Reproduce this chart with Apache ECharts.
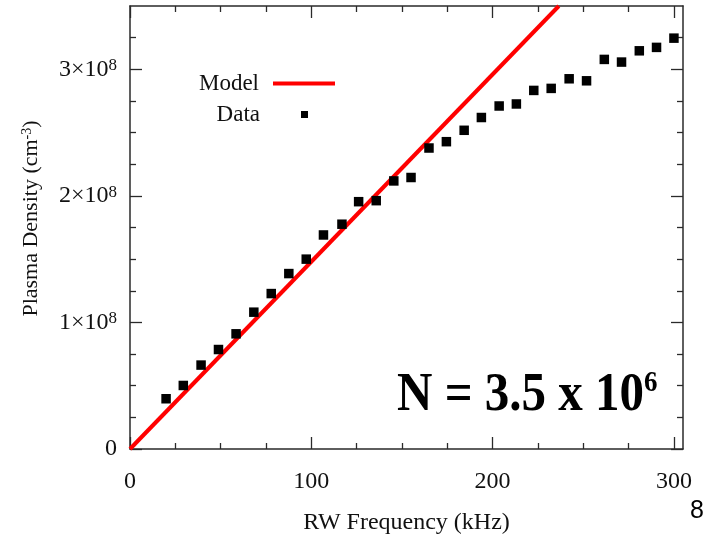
<!DOCTYPE html>
<html>
<head>
<meta charset="utf-8">
<script src="https://cdn.jsdelivr.net/npm/echarts@6/dist/echarts.min.js"></script>
<style>
html,body{margin:0;padding:0;background:#fff;}
#chart{width:706px;height:536px;}
</style>
</head>
<body>
<div id="chart"></div>
<script>
// ---- data ----
var freqKHz = [19.9, 29.4, 39.2, 48.8, 58.5, 68.3, 77.9, 87.6, 97.2, 106.7, 116.9, 126.1, 135.8, 145.5, 155.0, 164.9, 174.5, 184.3, 193.8, 203.6, 213.1, 222.7, 232.3, 242.2, 251.8, 261.6, 271.1, 280.9, 290.4, 300.0];
var densityE8 = [0.397, 0.502, 0.663, 0.786, 0.910, 1.081, 1.228, 1.386, 1.500, 1.691, 1.776, 1.954, 1.962, 2.118, 2.145, 2.378, 2.428, 2.518, 2.619, 2.710, 2.726, 2.833, 2.849, 2.925, 2.909, 3.078, 3.057, 3.146, 3.173, 3.246];
var modelFreq = [0, 236.5];
var modelDensityE8 = [0, 3.5];
var xMajor = [0, 100, 200, 300];
var xMinor = [25, 50, 75, 125, 150, 175, 225, 250, 275];
var yMajor = [0, 1, 2, 3];
var yMinor = [0.25, 0.5, 0.75, 1.25, 1.5, 1.75, 2.25, 2.5, 2.75, 3.25];

var serif = '"Liberation Serif", "Times New Roman", serif';
var frame = '#2a2a2a';

var dataPts = freqKHz.map(function (f, i) { return [f, densityE8[i]]; });
var modelPts = modelFreq.map(function (f, i) { return [f, modelDensityE8[i]]; });

function xAx(pos, ticks, len, showLine, label) {
  return {
    type: 'value', position: pos, min: 0, max: 305,
    axisLine: { show: showLine, onZero: false, lineStyle: { color: frame, width: 1.5 } },
    axisTick: { show: true, inside: true, length: len, customValues: ticks, lineStyle: { color: frame, width: 1.3 } },
    axisLabel: label ? {
      show: true, customValues: ticks, margin: 21,
      fontFamily: serif, fontSize: 24, color: '#111'
    } : { show: false },
    splitLine: { show: false }
  };
}
function yAx(pos, ticks, len, showLine, label) {
  return {
    type: 'value', position: pos, min: 0, max: 3.5,
    axisLine: { show: showLine, onZero: false, lineStyle: { color: frame, width: 1.5 } },
    axisTick: { show: true, inside: true, length: len, customValues: ticks, lineStyle: { color: frame, width: 1.3 } },
    axisLabel: label ? {
      show: true, customValues: ticks, margin: 13,
      fontFamily: serif, fontSize: 24, color: '#111',
      formatter: function (v) { return v === 0 ? '0' : v + '×10{sup|8}'; },
      rich: { sup: { fontFamily: serif, fontSize: 17, color: '#111', verticalAlign: 'top' } }
    } : { show: false },
    splitLine: { show: false }
  };
}

var xAxes = [xAx('bottom', xMajor, 12, true, true), xAx('bottom', xMinor, 6, false, false),
             xAx('top', xMajor, 12, true, false), xAx('top', xMinor, 6, false, false)];
xAxes[0].name = 'RW Frequency (kHz)';
xAxes[0].nameLocation = 'middle';
xAxes[0].nameGap = 62;
xAxes[0].nameTextStyle = { fontFamily: serif, fontSize: 24, color: '#111' };

var yAxes = [yAx('left', yMajor, 12, true, true), yAx('left', yMinor, 6, false, false),
             yAx('right', yMajor, 12, true, false), yAx('right', yMinor, 6, false, false)];
yAxes[0].name = 'Plasma Density (cm{sup|-3})';
yAxes[0].nameLocation = 'middle';
yAxes[0].nameGap = 88;
yAxes[0].nameTextStyle = {
  fontFamily: serif, fontSize: 22, color: '#111', padding: [0, 0, 0, 18],
  rich: { sup: { fontFamily: serif, fontSize: 14, color: '#111', verticalAlign: 'top' } }
};

var chart = echarts.init(document.getElementById('chart'), null, { renderer: 'canvas' });
chart.setOption({
  animation: false,
  backgroundColor: '#fff',
  grid: { left: 130, right: 23, top: 6, bottom: 87, containLabel: false, outerBoundsMode: 'none' },
  xAxis: xAxes,
  yAxis: yAxes,
  legend: [
    {
      data: [{ name: 'Model', icon: 'rect' }], right: 371, top: 72, padding: 0,
      itemWidth: 62, itemHeight: 4,
      textStyle: { fontFamily: serif, fontSize: 23, color: '#111', padding: [0, 9, 0, 0] },
      align: 'right', selectedMode: false
    },
    {
      data: [{ name: 'Data', icon: 'rect' }], right: 398, top: 103, padding: 0,
      itemWidth: 7, itemHeight: 7,
      textStyle: { fontFamily: serif, fontSize: 23, color: '#111', padding: [0, 36, 0, 0] },
      align: 'right', selectedMode: false
    }
  ],
  series: [
    {
      name: 'Model', type: 'line', data: modelPts, symbol: 'none', showSymbol: false,
      lineStyle: { color: '#ff0000', width: 4 }, itemStyle: { color: '#ff0000' },
      xAxisIndex: 0, yAxisIndex: 0, z: 3
    },
    {
      name: 'Data', type: 'scatter', data: dataPts, symbol: 'rect', symbolSize: 9.5,
      itemStyle: { color: '#000', opacity: 1 }, xAxisIndex: 0, yAxisIndex: 0, z: 4
    }
  ],
  graphic: [
    {
      type: 'text', x: 397, y: 396, scaleY: 1.12,
      style: {
        text: 'N = 3.5 x 10{sup|6}',
        font: 'bold 49px ' + serif,
        fill: '#000', textAlign: 'left', textVerticalAlign: 'middle',
        rich: { sup: { fontFamily: serif, fontWeight: 'bold', fontSize: 27, fill: '#000', verticalAlign: 'top' } }
      }
    },
    {
      type: 'text', x: 697, y: 511,
      style: { text: '8', font: '25px "Liberation Sans", Arial, sans-serif', fill: '#000', textAlign: 'center', textVerticalAlign: 'middle' }
    }
  ]
});
</script>
</body>
</html>
